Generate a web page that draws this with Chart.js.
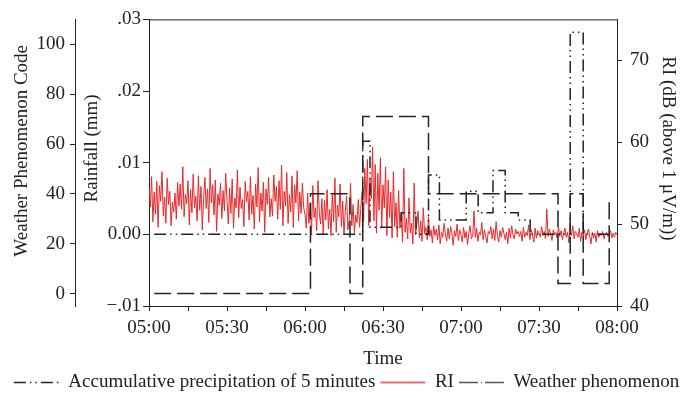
<!DOCTYPE html>
<html>
<head>
<meta charset="utf-8">
<script src="https://cdn.jsdelivr.net/npm/chart.js@4.4.0/dist/chart.umd.min.js"></script>
<style>
  html, body { margin: 0; padding: 0; background: #fff; }
</style>
</head>
<body>
<canvas id="chart" width="693" height="398"></canvas>
<script>
// minutes after 05:00
const accTimes = [2, 82.2, 85, 97, 102.7, 107.5, 111.7, 122, 126.6, 132.3, 137, 142, 146.6, 162, 167, 177];
const accValues = [0, 0.013, 0.001, 0.003, 0, 0.0083, 0.002, 0.006, 0.003, 0.0089, 0.003, 0.002, 0, 0.0282, 0, 0];

const wxTimes = [2, 62.1, 77.3, 82.2, 107.5, 157.3, 162, 167, 177];
const wxCodes = [0, 40, 0, 71, 40, 4, 40, 4, 37];

// RI, one value every 30 s from 05:00 to 08:00
const riStep = 0.5;
const riValues = [
  54.5, 52.1, 55.8, 50.3, 53.9, 51.2, 55.2, 49.6, 54.7, 52.8, 56.4, 51.0, 53.3, 50.1, 55.6, 52.4, 54.0, 49.8, 52.7, 51.5,
  53.8, 50.6, 55.1, 52.2, 54.9, 51.8, 57.0, 50.9, 53.6, 52.5, 55.3, 49.9, 54.2, 51.4, 56.1, 52.0, 53.4, 50.4, 55.9, 51.7,
  54.6, 49.3, 53.1, 55.7, 51.9, 54.3, 50.2, 56.8, 52.6, 54.8, 51.1, 55.4, 49.1, 53.7, 52.3, 55.0, 50.7, 54.1, 51.6, 56.2,
  52.9, 50.0, 54.4, 51.3, 55.5, 49.5, 53.2, 52.0, 56.6, 50.8, 54.5, 51.9, 53.0, 49.7, 55.2, 52.7, 54.0, 50.5, 55.8, 51.2,
  53.5, 49.4, 54.9, 52.1, 56.9, 50.3, 53.8, 51.6, 55.1, 49.0, 54.3, 52.4, 55.7, 50.9, 53.1, 51.0, 56.0, 52.8, 54.6, 50.6,
  55.3, 51.8, 57.2, 49.8, 54.0, 52.2, 56.3, 50.1, 53.6, 51.5, 55.9, 49.6, 54.8, 52.6, 56.5, 50.4, 53.9, 51.3, 55.0, 52.0,
  // 06:00
  51.2, 49.5, 53.8, 50.1, 52.6, 48.9, 54.7, 50.8, 52.0, 49.2, 55.3, 51.4, 50.0, 53.1, 48.7, 52.9, 50.5, 54.2, 49.4, 51.8,
  48.6, 53.6, 50.3, 55.6, 49.0, 52.3, 50.9, 54.9, 49.7, 52.8, 48.8, 51.5, 53.4, 49.3, 50.6, 55.0, 49.8, 52.4, 48.9, 51.1,
  50.2, 53.0, 49.6, 52.2,
  // 06:22
  54.0, 50.2, 56.8, 52.5, 57.9, 49.8, 55.6, 53.1, 59.4, 50.4, 57.3, 48.9, 56.2, 51.7, 58.1, 49.5, 54.8, 52.0, 57.0, 48.6,
  55.4, 50.8, 53.9, 48.3, 56.4, 49.7,
  // 06:35
  52.6, 48.4, 54.1, 49.5, 51.3, 47.8, 56.8, 49.0, 50.7, 48.2, 53.2, 48.9, 50.1, 47.6, 55.0, 48.7, 49.9, 51.6, 48.3, 50.4,
  47.9, 52.0, 48.8, 49.6, 48.1, 50.9, 48.5, 49.3, 47.7, 49.8,
  // 06:50
  48.6, 49.4, 48.1, 49.9, 47.6, 49.0, 48.4, 50.1, 48.8, 47.9, 49.5, 48.2, 49.7, 48.9, 47.4, 49.2, 48.5, 50.0, 48.0, 49.3,
  48.7, 47.8, 49.6, 48.3, 49.1, 47.5, 48.9, 49.8, 48.2, 48.6, 51.6, 48.4, 49.5, 47.9, 49.0, 48.7, 50.2, 48.1, 49.3, 48.5,
  47.7, 49.1, 48.8, 49.7, 48.2, 49.4, 48.0, 50.3, 48.6, 47.8, 49.2, 48.4, 49.6, 48.9, 48.1, 49.0, 47.6, 49.5, 48.3, 49.8,
  48.7, 48.2, 49.4, 48.8, 49.1, 48.5, 49.1, 47.9, 49.6, 48.4, 49.0, 48.6, 49.9, 48.1, 49.3, 48.7, 47.8, 49.5, 48.3, 49.2,
  48.9, 48.4, 49.7, 48.6, 49.1, 48.2, 51.8, 48.5, 49.4, 48.8, 48.0, 49.3, 48.7, 49.0, 48.3, 49.6, 48.5, 49.2, 48.1, 48.9,
  49.5, 48.4, 49.0, 47.7, 49.3, 48.6, 49.8, 48.2, 49.1, 48.8, 48.4, 49.5, 47.9, 49.0, 48.6, 49.3, 48.1, 48.8, 49.4, 48.5,
  47.6, 49.0, 48.3, 48.9, 47.8, 49.2, 48.4, 48.9, 48.6, 49.1, 48.2, 48.8, 49.0, 48.5, 48.7, 49.2, 48.3, 48.9, 48.4, 49.0,
  48.7
];

const rainLabels = { '-1': '\u2212.01', '0': '0.00', '1': '.01', '2': '.02', '3': '.03' };

const ink = '#222';
const font = { family: "'Liberation Serif', 'Times New Roman', serif", size: 19 };

function timeLabel(v) {
  const h = 5 + Math.floor(v / 60);
  const m = v % 60;
  return '0' + h + ':' + (m < 10 ? '0' : '') + m;
}

// top edge of the frame
const topBorder = {
  id: 'topBorder',
  afterDraw(chart) {
    const { ctx, chartArea } = chart;
    ctx.save();
    ctx.strokeStyle = ink;
    ctx.lineWidth = 1;
    ctx.beginPath();
    ctx.moveTo(chartArea.left, chartArea.top + 0.5);
    ctx.lineTo(chartArea.right, chartArea.top + 0.5);
    ctx.stroke();
    ctx.restore();
  }
};

const ctx = document.getElementById('chart').getContext('2d');
new Chart(ctx, {
  type: 'line',
  data: {
    datasets: [{
      label: 'Accumulative precipitation of 5 minutes',
      data: accTimes.map((t, i) => ({ x: t, y: accValues[i] })),
      yAxisID: 'yR',
      stepped: true,
      borderColor: ink,
      borderWidth: 1.5,
      borderDash: [12, 4, 1.5, 4, 1.5, 4],
      pointRadius: 0,
      fill: false,
      order: 0
    }, {
      label: 'RI',
      data: riValues.map((v, i) => ({ x: i * riStep, y: v })),
      yAxisID: 'yRI',
      borderColor: '#e8292b',
      borderWidth: 1,
      pointRadius: 0,
      fill: false,
      order: 2
    }, {
      label: 'Weather phenomenon',
      data: wxTimes.map((t, i) => ({ x: t, y: wxCodes[i] })),
      yAxisID: 'yW',
      stepped: true,
      borderColor: ink,
      borderWidth: 1.5,
      borderDash: [17, 6],
      pointRadius: 0,
      fill: false,
      order: 1
    }]
  },
  options: {
    responsive: false,
    animation: false,
    layout: { padding: { top: 12, left: 0, right: 0, bottom: -4 } },
    plugins: {
      tooltip: { enabled: false },
      legend: {
        position: 'bottom',
        labels: {
          usePointStyle: true,
          pointStyle: 'line',
          pointStyleWidth: 45,
          padding: 5,
          color: ink,
          font: font,
          sort: (a, b) => a.datasetIndex - b.datasetIndex,
          generateLabels(chart) {
            const items = Chart.defaults.plugins.legend.labels.generateLabels(chart);
            items.forEach(it => {
              if (it.datasetIndex === 0) { it.lineDash = [12, 4, 1.5, 4, 1.5, 4]; it.lineWidth = 1.5; it.strokeStyle = ink; }
              if (it.datasetIndex === 1) { it.lineWidth = 2; it.strokeStyle = '#f26a6a'; }
              if (it.datasetIndex === 2) { it.lineDash = [19, 3, 1, 3]; it.lineWidth = 1.5; it.strokeStyle = '#555'; }
            });
            return items;
          }
        }
      }
    },
    scales: {
      x: {
        type: 'linear',
        min: 0,
        max: 180,
        afterFit: s => { s.height = 62; },
        ticks: {
          stepSize: 15,
          autoSkip: false,
          maxRotation: 0,
          padding: 6,
          color: ink,
          font: font,
          callback: v => (v % 30 === 0 ? timeLabel(v) : '')
        },
        grid: { drawOnChartArea: false, tickLength: 5, color: ink },
        border: { color: ink },
        title: { display: true, text: 'Time', color: ink, font: font, padding: { top: 0, bottom: -2 } }
      },
      yW: {
        position: 'left',
        weight: 10,
        min: -5,
        max: 110,
        afterFit: s => { s.width = 75; },
        ticks: { stepSize: 20, includeBounds: false, padding: 5, color: ink, font: font },
        grid: { drawOnChartArea: false, tickLength: 5, color: ink },
        border: { color: ink },
        title: { display: true, text: '     Weather Phenomenon Code', color: ink, font: font, padding: { top: 11, bottom: 0 } }
      },
      yR: {
        position: 'left',
        weight: 0,
        min: -0.01,
        max: 0.03,
        afterFit: s => { s.width = 74; },
        ticks: {
          stepSize: 0.01,
          padding: 2,
          color: ink,
          font: font,
          callback: v => rainLabels[Math.round(v * 100)]
        },
        grid: { drawOnChartArea: false, tickLength: 6, color: ink },
        border: { color: ink },
        title: { display: true, text: '      Rainfall (mm)', color: ink, font: font, padding: { top: 6, bottom: 0 } }
      },
      yRI: {
        position: 'right',
        min: 40,
        max: 75,
        afterFit: s => { s.width = 76; },
        ticks: { stepSize: 10, includeBounds: false, padding: 8, color: ink, font: font },
        grid: { drawOnChartArea: false, tickLength: 5, color: ink },
        border: { color: ink },
        title: { display: true, text: 'RI (dB (above 1 \u03bcV/m))      ', color: ink, font: font, padding: { top: 14, bottom: 0 } }
      }
    }
  },
  plugins: [topBorder]
});
</script>
</body>
</html>
